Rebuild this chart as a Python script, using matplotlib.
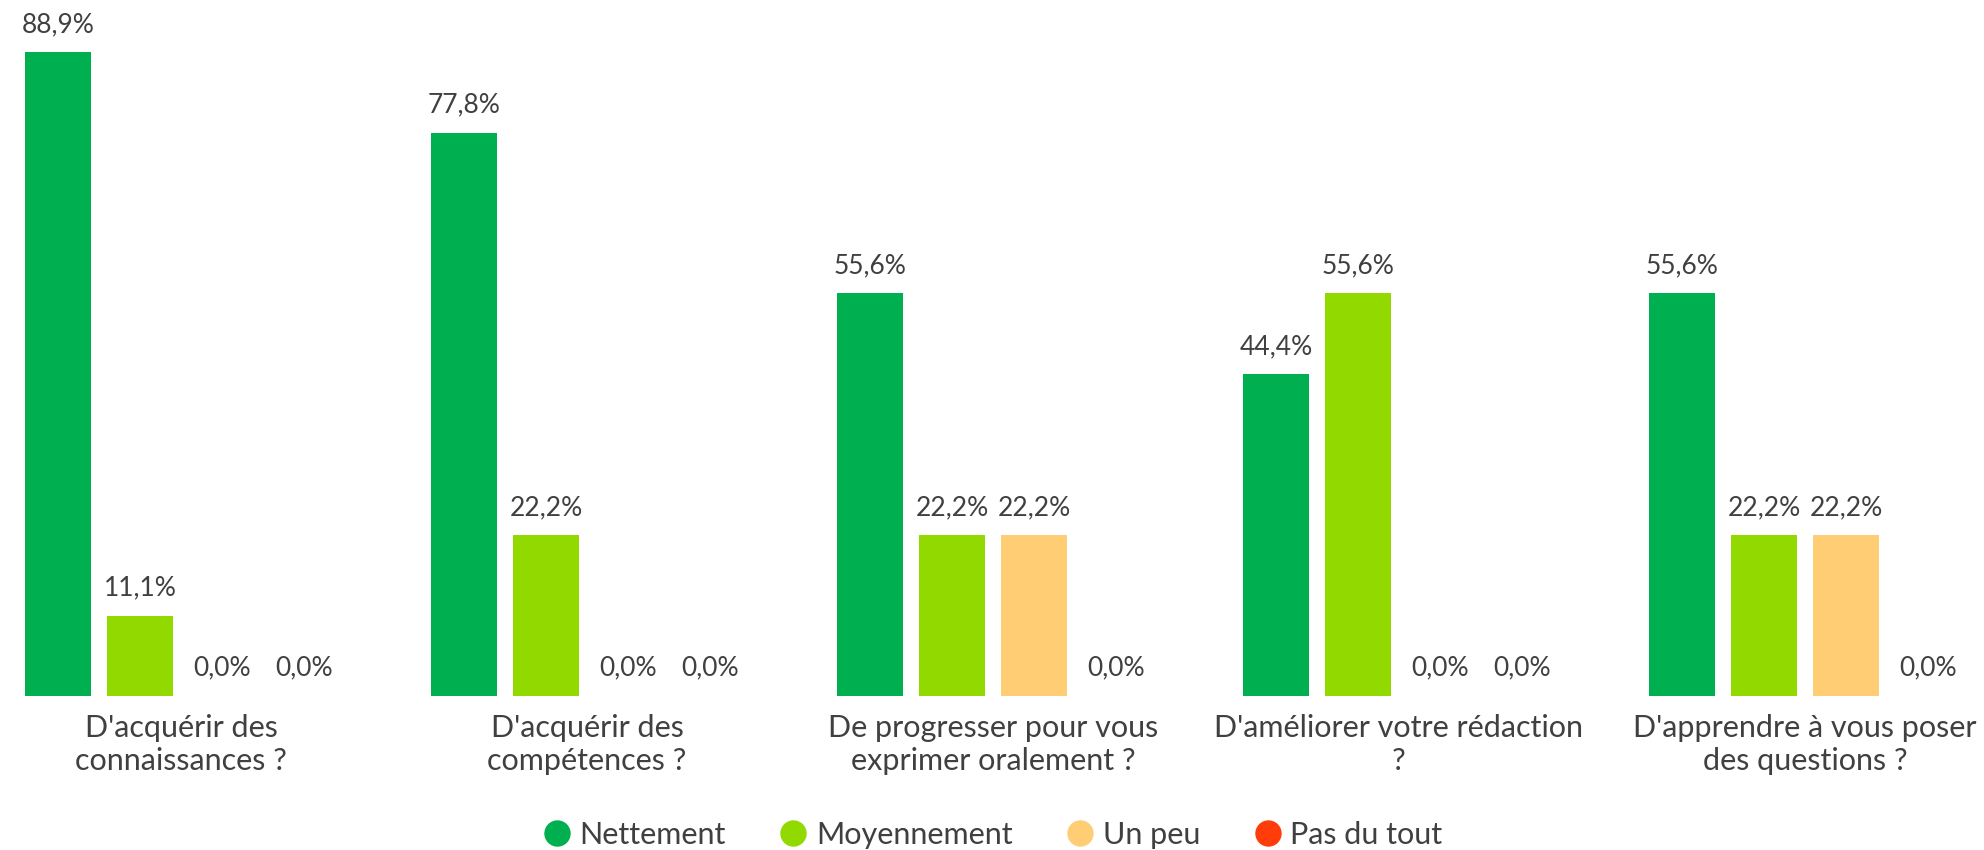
"""
Grouped bar chart of survey answers (percent of respondents).
"""
import matplotlib
matplotlib.use('Agg')
import matplotlib.pyplot as plt
from matplotlib.lines import Line2D
import numpy as np

# categories and series values
categories = ["D'acquérir des\nconnaissances ?",
              "D'acquérir des\ncompétences ?",
              "De progresser pour vous\nexprimer oralement ?",
              "D'améliorer votre rédaction\n?",
              "D'apprendre à vous poser\ndes questions ?"]
series_names = ['Nettement', 'Moyennement', 'Un peu', 'Pas du tout']
nettement = [88.9, 77.8, 55.6, 44.4, 55.6]
moyennement = [11.1, 22.2, 22.2, 55.6, 22.2]
un_peu = [0.0, 0.0, 22.2, 0.0, 22.2]
pas_du_tout = [0.0, 0.0, 0.0, 0.0, 0.0]

colors = ['#00B050', '#92D900', '#FFCD73', '#FF3C0A']
text_color = '#404040'

plt.rcParams['font.family'] = ['Lato', 'DejaVu Sans']

fig = plt.figure(figsize=(19.84, 8.5), dpi=100)
# axes spans full width, baseline at 696 px from top
ax = fig.add_axes([0, 154 / 850, 1, 1 - 154 / 850])

x = np.arange(len(categories))
step = 0.202
width = 0.1626
all_series = [nettement, moyennement, un_peu, pas_du_tout]

for i, (vals, col) in enumerate(zip(all_series, colors)):
    bars = ax.bar(x + (i - 1.5) * step, vals, width, color=col, linewidth=0)
    labels = [f'{v:.1f}%'.replace('.', ',') for v in vals]
    ax.bar_label(bars, labels=labels, padding=11, fontsize=19, color=text_color)

# x range chosen so groups land where they sit in the picture
ax.set_xlim(-0.4458, 4.4409)
ax.set_ylim(0, 96.1)

ax.set_xticks(x)
ax.set_xticklabels(categories, fontsize=22, color=text_color, linespacing=1.2)
ax.tick_params(axis='x', length=0, pad=13)
ax.set_yticks([])
for s in ax.spines.values():
    s.set_visible(False)

handles = [Line2D([], [], marker='o', linestyle='none', markersize=19,
                  markerfacecolor=c, markeredgewidth=0) for c in colors]
fig.legend(handles, series_names, loc='center', bbox_to_anchor=(0.5, 15 / 850),
           ncol=4, frameon=False, fontsize=22, handletextpad=0.25,
           columnspacing=1.7, labelcolor=text_color, handlelength=1.0)

fig.savefig('out.png', dpi=100)
